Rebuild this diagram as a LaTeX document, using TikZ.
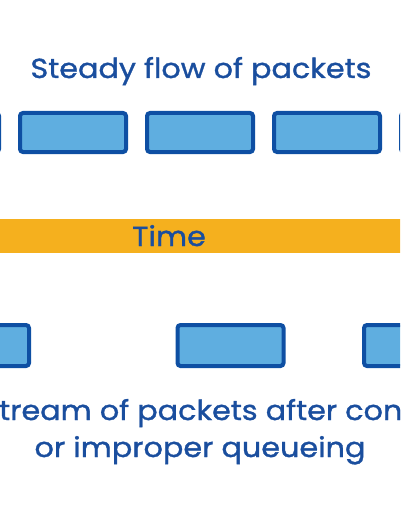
\documentclass[tikz,border=0pt]{standalone}
\usepackage{fontspec}
\setmainfont{Poppins}[FakeStretch=1.1, FakeBold=1.2]
\definecolor{pktfill}{HTML}{5FAEE0}
\definecolor{pktedge}{HTML}{0E4FA3}
\definecolor{txtblue}{HTML}{1A4E9E}
\definecolor{barorange}{HTML}{F5B01E}
\begin{document}
\begin{tikzpicture}[x=1pt, y=-1pt, thick,
  pkt/.style = {draw=pktedge, fill=pktfill, line width=4pt, rounded corners=3pt, minimum width=106pt, minimum height=39pt, inner sep=0pt},
  label/.style = {text=txtblue, inner sep=0pt, font=\fontsize{27.5}{32}\selectfont}]
  \useasboundingbox (0,0) rectangle (400,516);
  \clip (0,0) rectangle (400,516);
  % steady flow
  \node[label, anchor=base] (title) at (201,78) {Steady flow of packets};
  \node[pkt] (t0) at (-54,132.5) {};
  \node[pkt] (t1) at (73,132.5) {};
  \node[pkt] (t2) at (200,132.5) {};
  \node[pkt] (t3) at (327,132.5) {};
  \node[pkt] (t4) at (454,132.5) {};
  % time bar
  \node[fill=barorange, minimum width=420pt, minimum height=34pt, inner sep=0pt] (bar) at (200,236) {};
  \node[label, anchor=base] (time) at (169,246) {Time};
  % after congestion
  \node[pkt, minimum height=41pt] (b1) at (-24,345.5) {};
  \node[pkt, minimum height=41pt] (b2) at (230.5,345.5) {};
  \node[pkt, minimum height=41pt] (b3) at (417,345.5) {};
  \node[label, anchor=base west] (line1) at (-19,420) {Stream of packets after congestion};
  \node[label, anchor=base] (line2) at (200,457) {or improper queueing};
\end{tikzpicture}
\end{document}
